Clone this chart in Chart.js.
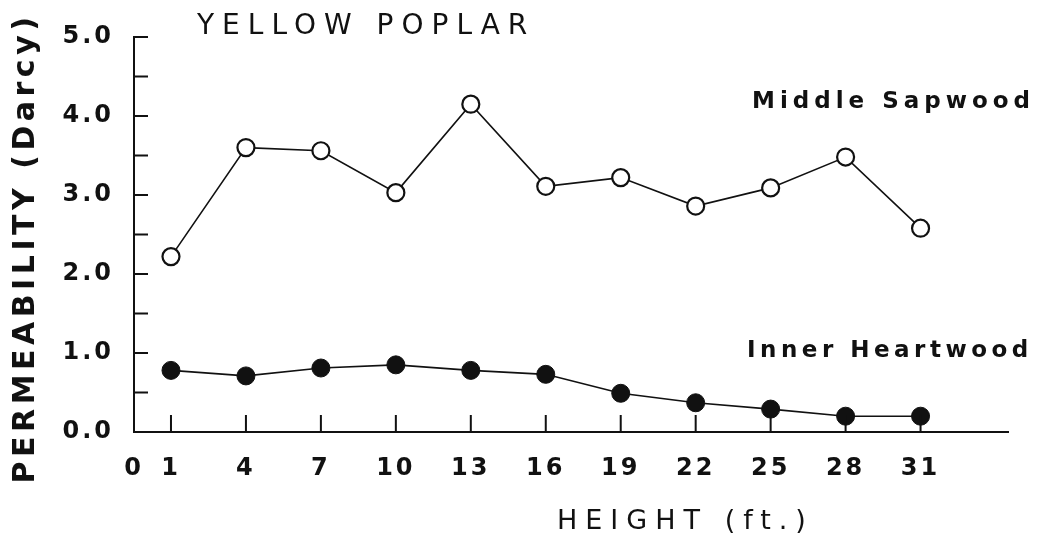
<!DOCTYPE html>
<html>
<head>
<meta charset="utf-8">
<script src="https://cdn.jsdelivr.net/npm/chart.js@4.4.1/dist/chart.umd.min.js"></script>
<style>
  html, body { margin: 0; padding: 0; background: #fff; }
  #wrap { width: 1049px; height: 539px; }
</style>
</head>
<body>
<div id="wrap"><canvas id="chart"></canvas></div>
<script>
// height along the stem (ft.)
const heights = [1, 4, 7, 10, 13, 16, 19, 22, 25, 28, 31];
// permeability (Darcy)
const sapwood = [2.22, 3.6, 3.56, 3.03, 4.15, 3.11, 3.22, 2.86, 3.09, 3.48, 2.58];
const heartwood = [0.78, 0.71, 0.81, 0.85, 0.78, 0.73, 0.49, 0.37, 0.29, 0.2, 0.2];
const xTickValues = [1, 4, 7, 10, 13, 16, 19, 22, 25, 28, 31];

const X_ORIGIN = -0.48;   // where the "0" sits, on the y axis
const INK = "#111";

const toPoints = ys => heights.map((h, i) => ({ x: h, y: ys[i] }));

function spacedText(ctx, text, x, y, font, spacing, align) {
  ctx.save();
  ctx.font = font;
  ctx.letterSpacing = spacing + "px";
  ctx.fillStyle = INK;
  ctx.textAlign = align || "left";
  ctx.textBaseline = "middle";
  ctx.fillText(text, x, y);
  ctx.restore();
}

// inward tick marks + hand placed labels
const decor = {
  id: "decor",
  beforeDraw(chart) {
    chart.ctx.letterSpacing = "3px";
  },
  afterDraw(chart) {
    const ctx = chart.ctx;
    const xs = chart.scales.x, ys = chart.scales.y;
    const area = chart.chartArea;
    ctx.save();
    ctx.strokeStyle = INK;
    ctx.lineWidth = 2;
    ctx.beginPath();
    ys.ticks.forEach(t => {
      if (t.value <= 0) return;
      const py = ys.getPixelForValue(t.value);
      ctx.moveTo(area.left, py);
      ctx.lineTo(area.left + 14, py);
    });
    xs.ticks.forEach(t => {
      if (t.value <= 0) return;
      const px = xs.getPixelForValue(t.value);
      ctx.moveTo(px, area.bottom);
      ctx.lineTo(px, area.bottom - 17);
    });
    ctx.stroke();
    ctx.restore();

    spacedText(ctx, "YELLOW POPLAR", 197, 27, "28px 'DejaVu Sans'", 8);
    spacedText(ctx, "Middle Sapwood", 752, 102, "bold 23px 'DejaVu Sans'", 5);
    spacedText(ctx, "Inner Heartwood", 747, 351, "bold 23px 'DejaVu Sans'", 4.5);
    spacedText(ctx, "HEIGHT (ft.)", 557, 522, "27px 'DejaVu Sans'", 8);

    ctx.save();
    ctx.translate(26, 248);
    ctx.rotate(-Math.PI / 2);
    spacedText(ctx, "PERMEABILITY (Darcy)", 0, 0, "bold 30px 'DejaVu Sans'", 4.5, "center");
    ctx.restore();
  }
};

new Chart(document.getElementById("chart"), {
  type: "scatter",
  data: {
    datasets: [
      {
        label: "Middle Sapwood",
        data: toPoints(sapwood),
        showLine: true,
        borderColor: INK,
        borderWidth: 1.6,
        pointRadius: 8.5,
        pointBorderWidth: 2.2,
        pointBackgroundColor: "#fff",
        pointBorderColor: INK
      },
      {
        label: "Inner Heartwood",
        data: toPoints(heartwood),
        showLine: true,
        borderColor: INK,
        borderWidth: 1.6,
        pointRadius: 9,
        pointBorderWidth: 1,
        pointBackgroundColor: INK,
        pointBorderColor: INK
      }
    ]
  },
  options: {
    animation: false,
    responsive: true,
    maintainAspectRatio: false,
    layout: { padding: { top: 37, right: 41, left: 0, bottom: 0 } },
    plugins: {
      legend: { display: false },
      tooltip: { enabled: false },
      title: { display: false }
    },
    scales: {
      x: {
        type: "linear",
        min: X_ORIGIN,
        max: 34.5,
        afterBuildTicks: s => {
          s.ticks = [{ value: X_ORIGIN }].concat(xTickValues.map(v => ({ value: v })));
        },
        afterFit: s => { s.height = 107; },
        grid: { display: false },
        border: { display: true, color: INK, width: 2 },
        ticks: {
          autoSkip: false,
          maxRotation: 0,
          padding: 14,
          color: INK,
          font: { family: "'DejaVu Sans'", size: 24, weight: "bold" },
          callback: v => (v < 0 ? "0" : String(v))
        }
      },
      y: {
        min: 0,
        max: 5,
        afterFit: s => { s.width = 134; },
        grid: { display: false },
        border: { display: true, color: INK, width: 2 },
        ticks: {
          stepSize: 0.5,
          padding: 12,
          color: INK,
          font: { family: "'DejaVu Sans'", size: 24, weight: "bold" },
          callback: v => (Number.isInteger(v) ? v.toFixed(1) : "")
        }
      }
    }
  },
  plugins: [decor]
});
</script>
</body>
</html>
